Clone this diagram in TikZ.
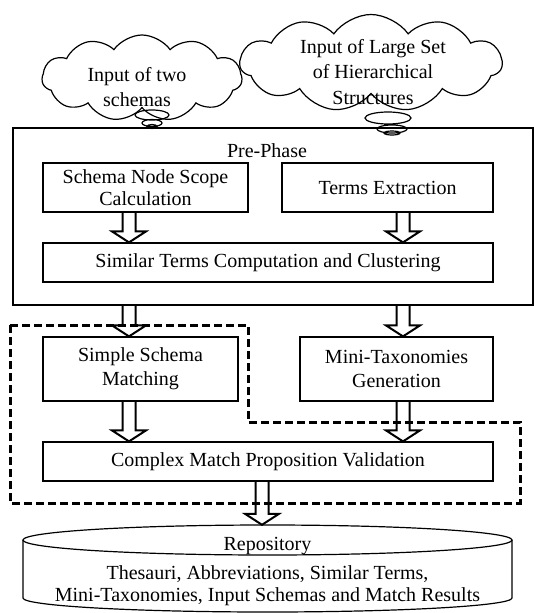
\documentclass[tikz,border=0pt]{standalone}
\usepackage{fontspec}
\setmainfont{Liberation Serif}
\usetikzlibrary{shapes.symbols, calc}

\begin{document}
\begin{tikzpicture}[x=1pt, y=-1pt]
\tikzstyle{every node}=[font=\fontsize{20}{22}\selectfont, align=center, inner sep=2pt]
\tikzstyle{box}=[draw, line width=1.2pt]
\tikzstyle{thought}=[cloud, draw, line width=1.2pt, cloud puffs=11, cloud puff arc=110, cloud ignores aspect]
\tikzstyle{bigarrow}=[line width=2pt, line join=miter,
	to path={let \p1=(\tikztostart), \p2=(\tikztotarget) in
	(\x1-6.5pt,\y1) -- (\x1-6.5pt,\y2+11pt) -- (\x1-17pt,\y2+11pt) -- (\x1,\y2)
	-- (\x1+17pt,\y2+11pt) -- (\x1+6.5pt,\y2+11pt) -- (\x1+6.5pt,\y1)}]
\useasboundingbox (0,0) rectangle (534,613);

\node[thought, minimum width=200pt, minimum height=86pt] 	(twoin) 	at (142,78) {};
\node[thought, minimum width=262pt, minimum height=97pt] 	(largein) 	at (371,63) {};
\node (twointxt) 		at (137,87) [font=\fontsize{20}{25}\selectfont] {Input of two\\schemas};
\node (largeintxt) 	at (373,72) [font=\fontsize{20}{25.5}\selectfont] {Input of Large Set\\of Hierarchical\\Structures};
\draw[line width=1.2pt] 	(152,115) ellipse [x radius=17pt, y radius=5pt]
						(152,123) ellipse [x radius=10pt, y radius=3.5pt]
						(152,126.5) ellipse [x radius=5pt, y radius=2pt]
						(388,118) ellipse [x radius=23pt, y radius=6pt]
						(392,129) ellipse [x radius=15pt, y radius=4pt]
						(392,133) ellipse [x radius=8pt, y radius=2pt];

\node[box, minimum width=520pt, minimum height=177pt] 	(pre) 	at (273,216.5) {};
\node (pretitle) at (267,151) {Pre-Phase};
\node[box, minimum width=205pt, minimum height=49pt] 	(sns) 		at (145.5,187.5) 	{Schema Node Scope\\Calculation};
\node[box, minimum width=211pt, minimum height=49pt] 	(terms) 	at (387.5,187.5) 	{Terms Extraction};
\node[box, minimum width=450pt, minimum height=39pt] 	(sim) 		at (268,262.5) 		{Similar Terms Computation and Clustering};
\node[box, minimum width=195pt, minimum height=64pt] 	(simple) 	at (140.5,369) 		[font=\fontsize{20}{24}\selectfont] {Simple Schema\\Matching};
\node[box, minimum width=193pt, minimum height=64pt] 	(mini) 		at (396.5,369) 		[font=\fontsize{20}{24}\selectfont] {Mini-Taxonomies\\Generation};
\node[box, minimum width=450pt, minimum height=39pt] 	(cmplx) 	at (268,461.5) 		{Complex Match Proposition Validation};

\node[minimum width=489pt, minimum height=88pt, inner sep=0pt] (repo) at (267.5,569) {};
\draw[line width=1.2pt] (267.5,540) ellipse [x radius=244.5pt, y radius=15pt];
\draw[line width=1.2pt] (23,540) -- (23,598) arc[start angle=180, end angle=360, x radius=244.5pt, y radius=14pt] -- (512,540);
\node (repotitle) 	at (267.5,546) {Repository};
\node (repotext) 	at (267.5,586) {Thesauri, Abbreviations, Similar Terms,\\Mini-Taxonomies, Input Schemas and Match Results};

\draw[line width=3pt, dash pattern=on 8pt off 4pt]
	(10,325) -- (248,325) -- (248,422) -- (520,422) -- (520,503) -- (10,503) -- cycle;

\coordinate (lcol) at (129,0);
\coordinate (rcol) at (403,0);
\coordinate (mcol) at (262,0);
\path[bigarrow]
(sns.south -| lcol) 	edge 	(sim.north -| lcol)
(terms.south -| rcol) 	edge 	(sim.north -| rcol)
(pre.south -| lcol) 	edge 	(simple.north -| lcol)
(pre.south -| rcol) 	edge 	(mini.north -| rcol)
(simple.south -| lcol) 	edge 	(cmplx.north -| lcol)
(mini.south -| rcol) 	edge 	(cmplx.north -| rcol)
(cmplx.south -| mcol) 	edge 	(repo.north -| mcol);
\end{tikzpicture}
\end{document}
